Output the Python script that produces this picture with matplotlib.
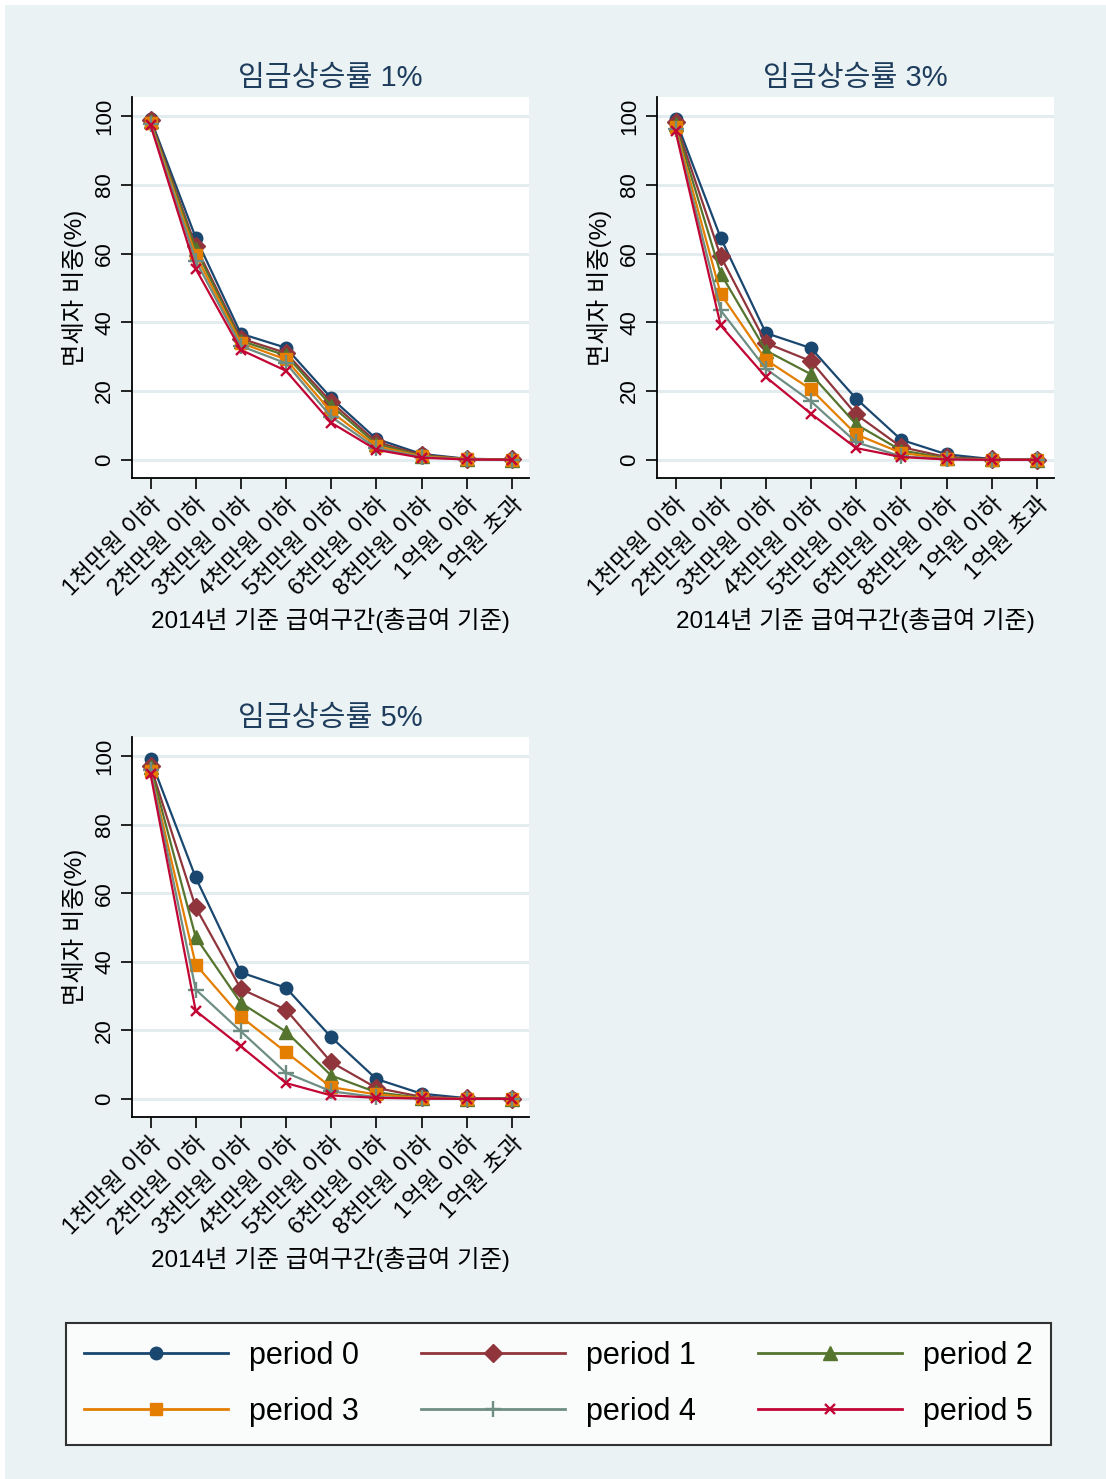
import matplotlib
matplotlib.use("Agg")
import matplotlib.pyplot as plt
from matplotlib.patches import Rectangle
from matplotlib.lines import Line2D

plt.rcParams['font.family'] = ['Liberation Sans', 'Noto Sans CJK KR', 'DejaVu Sans']

# Income brackets (2014 base, total pay)
brackets = ["1천만원 이하", "2천만원 이하", "3천만원 이하", "4천만원 이하",
            "5천만원 이하", "6천만원 이하", "8천만원 이하", "1억원 이하", "1억원 초과"]

periods = ["period 0", "period 1", "period 2", "period 3", "period 4", "period 5"]

# Share of tax-exempt workers (%) by bracket, wage growth 1%
g1_p0 = [99.3, 64.7, 36.7, 32.6, 18.0, 6.1, 1.7, 0.3, 0.1]
g1_p1 = [98.8, 62.2, 35.3, 31.1, 16.8, 5.2, 1.4, 0.2, 0.1]
g1_p2 = [98.5, 61.3, 34.6, 30.4, 15.8, 4.6, 1.2, 0.2, 0.0]
g1_p3 = [98.1, 59.6, 34.0, 29.2, 14.0, 4.0, 1.0, 0.2, 0.0]
g1_p4 = [97.8, 58.0, 33.1, 28.1, 12.5, 3.4, 0.8, 0.1, 0.0]
g1_p5 = [97.4, 55.6, 32.0, 25.9, 10.8, 2.9, 0.6, 0.1, 0.0]

# wage growth 3%
g3_p0 = [99.1, 64.6, 36.9, 32.5, 17.8, 5.8, 1.6, 0.2, 0.1]
g3_p1 = [98.3, 59.2, 34.0, 28.7, 13.2, 3.7, 0.8, 0.1, 0.0]
g3_p2 = [97.6, 54.2, 31.8, 24.9, 10.3, 2.7, 0.5, 0.1, 0.0]
g3_p3 = [96.8, 48.3, 29.1, 20.5, 7.4, 2.0, 0.3, 0.0, 0.0]
g3_p4 = [96.2, 43.5, 26.5, 17.0, 5.1, 1.0, 0.2, 0.0, 0.0]
g3_p5 = [95.7, 39.1, 24.1, 13.4, 3.4, 0.8, 0.1, 0.0, 0.0]

# wage growth 5%
g5_p0 = [99.1, 64.6, 36.9, 32.4, 18.0, 5.8, 1.5, 0.2, 0.1]
g5_p1 = [97.2, 55.9, 32.1, 26.0, 10.7, 3.2, 0.6, 0.1, 0.0]
g5_p2 = [96.8, 47.2, 28.0, 19.6, 6.8, 1.9, 0.3, 0.0, 0.0]
g5_p3 = [95.7, 39.2, 24.0, 13.6, 3.4, 1.3, 0.2, 0.0, 0.0]
g5_p4 = [95.9, 31.9, 19.7, 7.6, 2.2, 0.5, 0.1, 0.0, 0.0]
g5_p5 = [94.8, 25.7, 15.3, 4.6, 1.0, 0.3, 0.1, 0.0, 0.0]

panels = [
    ("임금상승률 1%", [g1_p0, g1_p1, g1_p2, g1_p3, g1_p4, g1_p5]),
    ("임금상승률 3%", [g3_p0, g3_p1, g3_p2, g3_p3, g3_p4, g3_p5]),
    ("임금상승률 5%", [g5_p0, g5_p1, g5_p2, g5_p3, g5_p4, g5_p5]),
]

colors = ["#1a476f", "#90353b", "#55752f", "#e37e00", "#6e8e84", "#c10534"]
markers = ["o", "D", "^", "s", "+", "x"]
msizes = [9, 9, 9.5, 8.5, 12, 6.5]
mews = [1, 1, 1, 1, 1.7, 1.7]

BG = "#eaf2f3"
W, H = 1106, 1479
fig = plt.figure(figsize=(W / 100, H / 100), dpi=100)
fig.patch.set_facecolor("white")
fig.add_artist(Rectangle((5 / W, 0), 1 - 5 / W, 1 - 5 / H, transform=fig.transFigure,
                         facecolor=BG, edgecolor="none", zorder=0))

# axes boxes in pixels: (left, top, right, bottom)
boxes = [(132, 97, 529, 478), (657, 97, 1054, 478), (132, 737, 529, 1117)]

x = list(range(len(brackets)))
for (title, series), (l, t, r, b) in zip(panels, boxes):
    ax = fig.add_axes([l / W, 1 - b / H, (r - l) / W, (b - t) / H])
    ax.set_facecolor("white")
    for i, vals in enumerate(series):
        ax.plot(x, vals, color=colors[i], marker=markers[i], markersize=msizes[i],
                markeredgewidth=mews[i], linewidth=1.6, zorder=3 + i)
    ax.set_xlim(-0.41, 8.38)
    ax.set_ylim(-5.3, 105.6)
    ax.set_yticks([0, 20, 40, 60, 80, 100])
    ax.set_xticks(x)
    ax.set_xticklabels(brackets, rotation=45, ha="right", va="top",
                       rotation_mode="anchor", fontsize=17)
    for lab in ax.get_yticklabels():
        lab.set_rotation(90)
        lab.set_va("center")
        lab.set_fontsize(16)
    ax.tick_params(axis="both", direction="out", length=8, width=1.2, colors="black")
    ax.tick_params(axis="x", pad=3)
    ax.tick_params(axis="y", pad=4)
    ax.grid(axis="y", color="#e3ecef", linewidth=2.2, zorder=0)
    ax.set_axisbelow(True)
    for s in ("top", "right"):
        ax.spines[s].set_visible(False)
    for s in ("left", "bottom"):
        ax.spines[s].set_linewidth(1.3)
    ax.set_title(title, fontsize=21, color="#1e3d5c", pad=8)
    ax.set_xlabel("2014년 기준 급여구간(총급여 기준)", fontsize=17.5, labelpad=6)
    ax.set_ylabel("면세자 비중(%)", fontsize=17.5, labelpad=5)

# legend laid out row by row: period 0-2 on top, 3-5 below
order = [0, 3, 1, 4, 2, 5]
handles = [Line2D([], [], color=colors[i], marker=markers[i], markersize=msizes[i],
                  markeredgewidth=mews[i], linewidth=2) for i in order]
labels = [periods[i] for i in order]
leg = fig.legend(handles, labels, loc="center", ncol=3, mode="expand",
                 bbox_to_anchor=(66 / W, 1 - 1447 / H, 985 / W, 126 / H),
                 borderaxespad=0, fontsize=22, frameon=True, fancybox=False,
                 handlelength=4.7, handletextpad=0.7, labelspacing=0.85,
                 borderpad=0.6, columnspacing=1.0)
leg.get_frame().set_edgecolor("black")
leg.get_frame().set_linewidth(1.5)
leg.get_frame().set_facecolor("white")

fig.savefig("out.png", dpi=100, facecolor=fig.get_facecolor())
